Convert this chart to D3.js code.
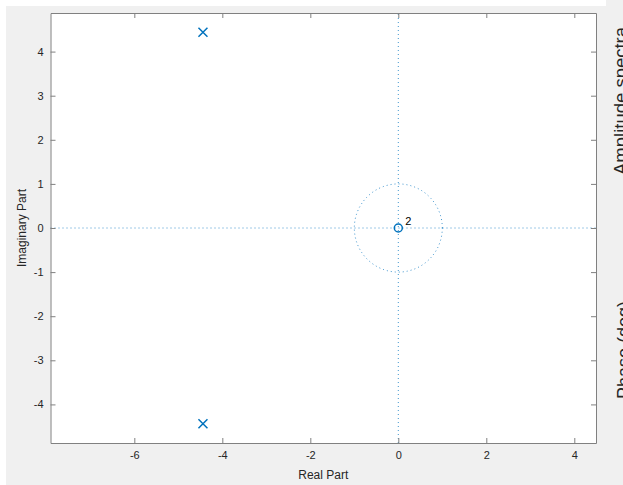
<!DOCTYPE html>
<html>
<head>
<meta charset="utf-8">
<script src="https://cdn.jsdelivr.net/npm/d3@7"></script>
<style>
  body { margin: 0; background: #ffffff; }
  svg { display: block; font-family: "Liberation Sans", Arial, sans-serif; }
  .axis text { fill: #262626; font-size: 11px; }
  .axis path, .axis line { stroke: #808080; }
</style>
</head>
<body>
<svg id="chart"></svg>
<script>
// pole / zero data (real, imag)
var poleRe = [-4.44, -4.44];
var poleIm = [4.44, -4.44];
var zeroRe = [0];
var zeroIm = [0];
var zeroLabels = ["2"];
var xTicks = [-6, -4, -2, 0, 2, 4];
var yTicks = [-4, -3, -2, -1, 0, 1, 2, 3, 4];
var xDomain = [-7.905, 4.493];
var yDomain = [-4.875, 4.875];

var svgWidth = 623;
var svgHeight = 485;
var box = {left: 50.5, right: 596, top: 13, bottom: 443};
var blue = "#0072BD";

var svg = d3.select("#chart")
    .attr("width", svgWidth)
    .attr("height", svgHeight);

// figure background panels
svg.append("rect").attr("x", 6).attr("y", 6).attr("width", svgWidth - 6).attr("height", svgHeight - 6).attr("fill", "#f0f0f0");
svg.append("rect").attr("x", 606).attr("y", 0).attr("width", svgWidth - 606).attr("height", svgHeight).attr("fill", "#f0f0f0");

// axes area
svg.append("rect")
    .attr("x", box.left).attr("y", box.top)
    .attr("width", box.right - box.left).attr("height", box.bottom - box.top)
    .attr("fill", "#ffffff");

var x = d3.scaleLinear().domain(xDomain).range([box.left, box.right]);
var y = d3.scaleLinear().domain(yDomain).range([box.bottom, box.top]);

var fmt = function(d) { return String(d); };

// dotted grid through origin and unit circle
var grid = svg.append("g")
    .attr("stroke", blue).attr("stroke-opacity", 0.75).attr("fill", "none")
    .attr("stroke-width", 1).attr("stroke-dasharray", "1,3");
grid.append("line").attr("x1", x(xDomain[0])).attr("x2", x(xDomain[1])).attr("y1", y(0)).attr("y2", y(0));
grid.append("line").attr("x1", x(0)).attr("x2", x(0)).attr("y1", y(yDomain[0])).attr("y2", y(yDomain[1]));
var circ = d3.range(0, 361, 2).map(function(a) {
    var t = a * Math.PI / 180;
    return [x(Math.cos(t)), y(Math.sin(t))];
});
grid.append("path").attr("d", d3.line()(circ));

// axes with inward ticks on all sides
svg.append("g").attr("class", "axis")
    .attr("transform", "translate(0," + box.bottom + ")")
    .call(d3.axisBottom(x).tickValues(xTicks).tickFormat(fmt).tickSizeInner(-5).tickSizeOuter(0).tickPadding(8));
svg.append("g").attr("class", "axis")
    .attr("transform", "translate(0," + box.top + ")")
    .call(d3.axisTop(x).tickValues(xTicks).tickFormat("").tickSizeInner(-5).tickSizeOuter(0));
svg.append("g").attr("class", "axis")
    .attr("transform", "translate(" + box.left + ",0)")
    .call(d3.axisLeft(y).tickValues(yTicks).tickFormat(fmt).tickSizeInner(-5).tickSizeOuter(0).tickPadding(7));
svg.append("g").attr("class", "axis")
    .attr("transform", "translate(" + box.right + ",0)")
    .call(d3.axisRight(y).tickValues(yTicks).tickFormat("").tickSizeInner(-5).tickSizeOuter(0));
svg.selectAll(".axis .domain").attr("stroke", "#808080");

// poles as crosses
var poles = poleRe.map(function(r, i) { return {re: r, im: poleIm[i]}; });
svg.selectAll(".pole")
    .data(poles)
    .enter()
    .append("path")
    .attr("class", "pole")
    .attr("transform", function(d) { return "translate(" + x(d.re) + "," + y(d.im) + ")"; })
    .attr("d", "M-4.5,-4.5L4.5,4.5M-4.5,4.5L4.5,-4.5")
    .attr("stroke", blue).attr("stroke-width", 1.5).attr("fill", "none");

// zeros as circles
var zeros = zeroRe.map(function(r, i) { return {re: r, im: zeroIm[i], label: zeroLabels[i]}; });
svg.selectAll(".zero")
    .data(zeros)
    .enter()
    .append("circle")
    .attr("class", "zero")
    .attr("cx", function(d) { return x(d.re); })
    .attr("cy", function(d) { return y(d.im); })
    .attr("r", 4)
    .attr("stroke", blue).attr("stroke-width", 1.5).attr("fill", "none");
svg.selectAll(".zlabel")
    .data(zeros)
    .enter()
    .append("text")
    .attr("x", function(d) { return x(d.re) + 7; })
    .attr("y", function(d) { return y(d.im) - 3; })
    .attr("font-size", 11).attr("fill", "#000")
    .text(function(d) { return d.label; });

// axis labels
svg.append("text")
    .attr("x", (box.left + box.right) / 2).attr("y", 479)
    .attr("text-anchor", "middle").attr("font-size", 12).attr("fill", "#262626")
    .text("Real Part");
svg.append("text")
    .attr("transform", "translate(26," + ((box.top + box.bottom) / 2) + ") rotate(-90)")
    .attr("text-anchor", "middle").attr("font-size", 12).attr("fill", "#262626")
    .text("Imaginary Part");

// neighbouring plot labels, cut off at the right edge as in the original figure
svg.append("text")
    .attr("transform", "translate(626.5,175) rotate(-90)")
    .attr("font-size", 18.5).attr("fill", "#262626")
    .text("Amplitude spectra");
svg.append("text")
    .attr("transform", "translate(629.5,399) rotate(-90)")
    .attr("font-size", 18).attr("fill", "#262626")
    .text("Phase (deg)");
</script>
</body>
</html>
